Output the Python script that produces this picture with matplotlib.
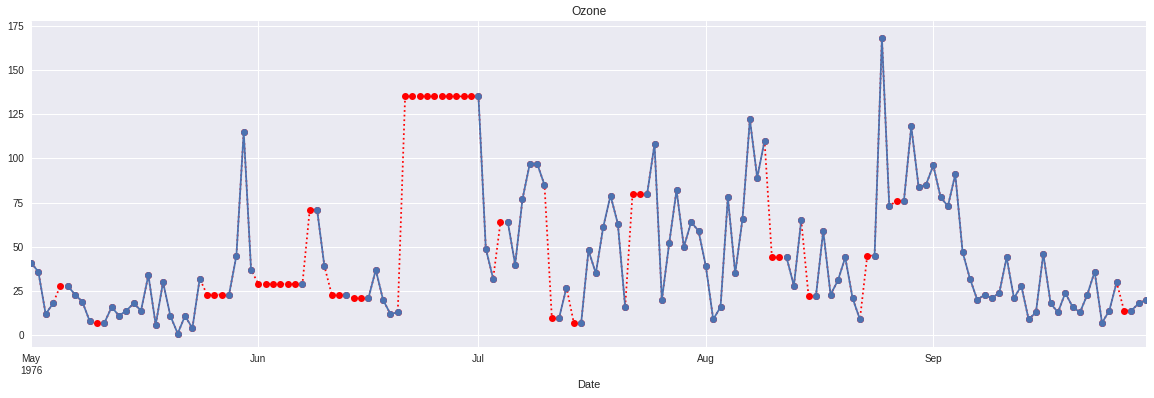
import numpy as np
import pandas as pd
import matplotlib
matplotlib.use("Agg")
import matplotlib.pyplot as plt

# Ozone readings, 1 May - 30 Sep 1976 (NaN = missing)
nan = np.nan
ozone_may = [41, 36, 12, 18, nan, 28, 23, 19, 8, nan, 7, 16, 11, 14, 18, 14,
             34, 6, 30, 11, 1, 11, 4, 32, nan, nan, nan, 23, 45, 115, 37]
ozone_jun = [nan, nan, nan, nan, nan, nan, 29, nan, 71, 39, nan, nan, 23,
             nan, nan, 21, 37, 20, 12, 13, nan, nan, nan, nan, nan, nan, nan,
             nan, nan, nan]
ozone_jul = [135, 49, 32, nan, 64, 40, 77, 97, 97, 85, nan, 10, 27, nan, 7,
             48, 35, 61, 79, 63, 16, nan, nan, 80, 108, 20, 52, 82, 50, 64,
             59]
ozone_aug = [39, 9, 16, 78, 35, 66, 122, 89, 110, nan, nan, 44, 28, 65, nan,
             22, 59, 23, 31, 44, 21, 9, nan, 45, 168, 73, nan, 76, 118, 84,
             85]
ozone_sep = [96, 78, 73, 91, 47, 32, 20, 23, 21, 24, 44, 21, 28, 9, 13, 46,
             18, 13, 24, 16, 13, 23, 36, 7, 14, 30, nan, 14, 18, 20]

dates = pd.date_range("1976-05-01", "1976-09-30", freq="D")
ozone = pd.Series(ozone_may + ozone_jun + ozone_jul + ozone_aug + ozone_sep,
                  index=dates, name="Ozone")
ozone.index.name = "Date"

plt.style.use("seaborn-v0_8")
plt.rcParams["font.family"] = ["Liberation Sans", "DejaVu Sans"]

fig = plt.figure(figsize=(1154 / 72, 398 / 72), dpi=72)
ax = fig.add_axes([31 / 1154, 1 - 347 / 398, 1115 / 1154, 326 / 398])

# backfilled values underneath, original series on top
ozone.bfill().plot(ax=ax, color="red", marker="o", linestyle="dotted")
ozone.plot(ax=ax, marker="o")

ax.set_title("Ozone")
ax.set_ylim(-6.6, 177.6)
ax.set_yticks([0, 25, 50, 75, 100, 125, 150, 175])

fig.savefig("out.png", dpi=72)
